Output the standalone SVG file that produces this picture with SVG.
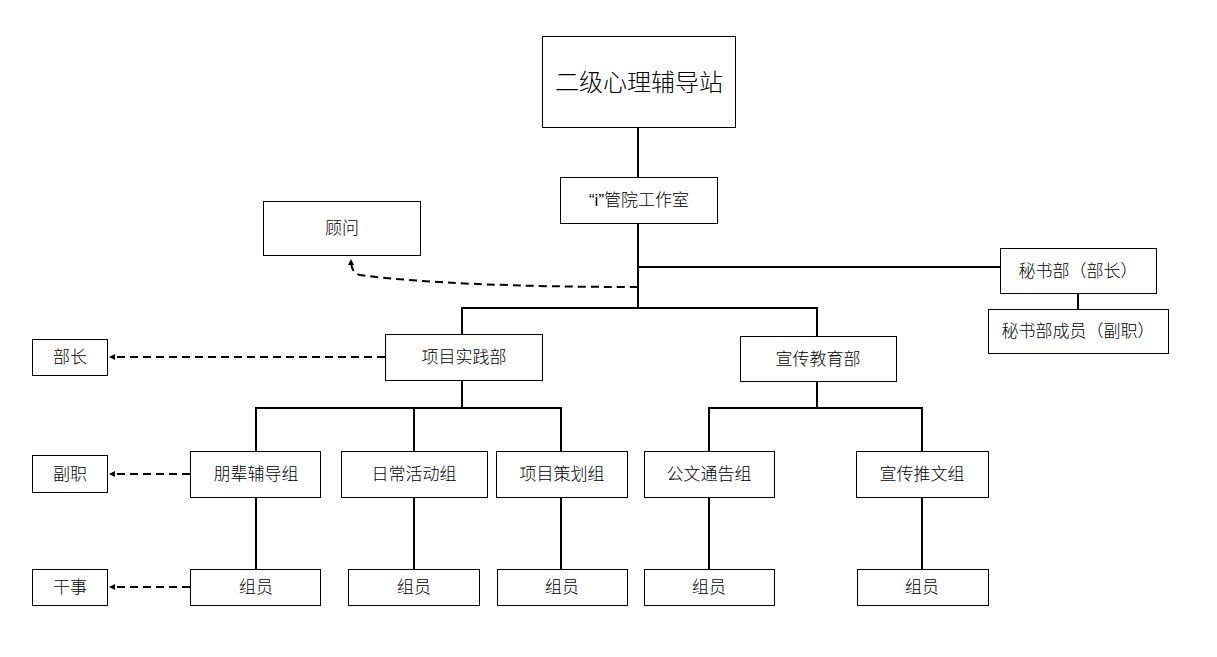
<svg xmlns="http://www.w3.org/2000/svg" width="1217" height="657" viewBox="0 0 1217 657">
<style>
.b{fill:#fff;stroke:#000;stroke-width:1}
.t{font-family:"Liberation Sans","Noto Sans CJK SC",sans-serif;font-size:17px;font-weight:300;fill:#000;text-anchor:middle;dominant-baseline:central}
.c{fill:none;stroke:#000;stroke-width:2}
.d{fill:none;stroke:#000;stroke-width:2;stroke-dasharray:8 5}
</style>
<defs>
<marker id="ah" viewBox="0 0 6 6" refX="5" refY="3" markerWidth="3" markerHeight="3" orient="auto"><path d="M0,0 L6,3 L0,6 z" fill="#000"/></marker>
</defs>
<rect width="1217" height="657" fill="#fff"/>
<g id="connectors">
<path class="c" d="M638,127 V177"/>
<path class="c" d="M638,223 V308"/>
<path class="c" d="M638,267 H1000"/>
<path class="c" d="M1078,293 V309"/>
<path class="c" d="M462,334 V308 H817 V336"/>
<path class="c" d="M462,380 V408"/>
<path class="c" d="M256,451 V408 H561 V451"/>
<path class="c" d="M414,408 V451"/>
<path class="c" d="M817,381 V408"/>
<path class="c" d="M709,451 V408 H922 V451"/>
<path class="c" d="M256,497 V569"/>
<path class="c" d="M414,497 V569"/>
<path class="c" d="M561,497 V569"/>
<path class="c" d="M709,497 V569"/>
<path class="c" d="M922,497 V569"/>
<path class="d" d="M638,287 C520,287 420,283 360,275 C353,273 351,268 351,260" marker-end="url(#ah)"/>
<path class="d" d="M385,357 H110" marker-end="url(#ah)"/>
<path class="d" d="M190,474 H110" marker-end="url(#ah)"/>
<path class="d" d="M190,587 H110" marker-end="url(#ah)"/>
</g>
<g id="n-root"><rect class="b" x="542.5" y="36.5" width="193" height="91"/><text class="t" x="639" y="82" style="font-size:24px">二级心理辅导站</text></g>
<g id="n-office"><rect class="b" x="560.5" y="177.5" width="157" height="46"/><text class="t" x="639" y="200">“i”管院工作室</text></g>
<g id="n-advisor"><rect class="b" x="263.5" y="201.5" width="157" height="54"/><text class="t" x="342" y="228">顾问</text></g>
<g id="n-sec"><rect class="b" x="1000.5" y="248.5" width="156" height="45"/><text class="t" x="1078" y="271">秘书部（部长）</text></g>
<g id="n-secm"><rect class="b" x="988.5" y="309.5" width="180" height="44"/><text class="t" x="1078" y="331">秘书部成员（副职）</text></g>
<g id="n-proj"><rect class="b" x="385.5" y="334.5" width="157" height="46"/><text class="t" x="464" y="357">项目实践部</text></g>
<g id="n-pub"><rect class="b" x="740.5" y="336.5" width="156" height="45"/><text class="t" x="818" y="359">宣传教育部</text></g>
<g id="n-head"><rect class="b" x="32.5" y="339.5" width="75" height="36"/><text class="t" x="70" y="357">部长</text></g>
<g id="n-deputy"><rect class="b" x="32.5" y="455.5" width="75" height="37"/><text class="t" x="70" y="474">副职</text></g>
<g id="n-staff"><rect class="b" x="32.5" y="569.5" width="75" height="36"/><text class="t" x="70" y="587">干事</text></g>
<g id="n-g1"><rect class="b" x="190.5" y="451.5" width="130" height="46"/><text class="t" x="256" y="474">朋辈辅导组</text></g>
<g id="n-g2"><rect class="b" x="341.5" y="451.5" width="146" height="46"/><text class="t" x="414" y="474">日常活动组</text></g>
<g id="n-g3"><rect class="b" x="496.5" y="451.5" width="131" height="46"/><text class="t" x="562" y="474">项目策划组</text></g>
<g id="n-g4"><rect class="b" x="644.5" y="451.5" width="130" height="46"/><text class="t" x="709" y="474">公文通告组</text></g>
<g id="n-g5"><rect class="b" x="856.5" y="451.5" width="132" height="46"/><text class="t" x="922" y="474">宣传推文组</text></g>
<g id="n-m1"><rect class="b" x="190.5" y="569.5" width="130" height="36"/><text class="t" x="256" y="587">组员</text></g>
<g id="n-m2"><rect class="b" x="348.5" y="569.5" width="131" height="36"/><text class="t" x="414" y="587">组员</text></g>
<g id="n-m3"><rect class="b" x="497.5" y="569.5" width="130" height="36"/><text class="t" x="562" y="587">组员</text></g>
<g id="n-m4"><rect class="b" x="644.5" y="569.5" width="130" height="36"/><text class="t" x="709" y="587">组员</text></g>
<g id="n-m5"><rect class="b" x="857.5" y="569.5" width="131" height="36"/><text class="t" x="922" y="587">组员</text></g>
</svg>
